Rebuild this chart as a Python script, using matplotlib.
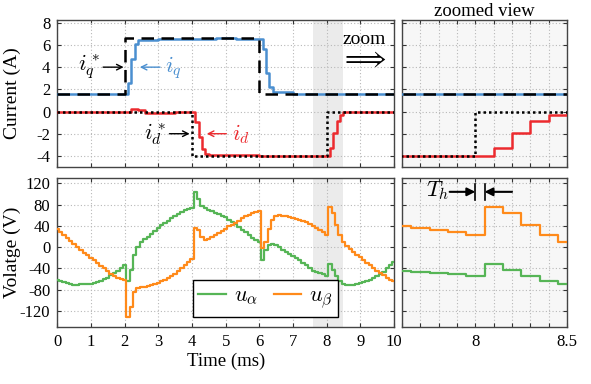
import numpy as np
import matplotlib
matplotlib.use("Agg")
import matplotlib.pyplot as plt

plt.rcParams['font.family'] = ['Liberation Serif', 'DejaVu Serif']
plt.rcParams['mathtext.fontset'] = 'cm'
plt.rcParams['axes.unicode_minus'] = False

# ---------------- data ----------------
# currents (step changes, steps-post)
t_iq = [0, 1.0, 2.1, 2.2, 2.3, 2.4, 3.0, 4.0, 4.7, 5.3, 6.1, 6.2, 6.3, 6.4, 7.0, 8.0, 9.0, 9.6, 10.0]
iq = [1.6, 1.58, 2.6, 4.7, 6.1, 6.45, 6.5, 6.5, 6.62, 6.55, 5.6, 3.5, 2.2, 1.75, 1.6, 1.6, 1.55, 1.6, 1.6]
t_iq_ref = [0, 2.0, 6.0, 10.0]
iq_ref = [1.6, 6.6, 1.6, 1.6]

t_id = [0, 2.2, 2.4, 2.6, 3.5, 4.1, 4.2, 4.3, 4.4, 4.5, 5.0, 6.0, 7.0, 7.6, 8.1, 8.2, 8.3, 8.4, 8.5, 9.0, 10.0]
id_ = [0.0, 0.2, 0.1, -0.1, 0.0, -0.9, -2.3, -3.4, -3.8, -3.9, -3.95, -3.98, -4.05, -4.0, -3.27, -1.9, -0.88, -0.35, -0.05, 0.0, 0.0]
t_id_ref = [0, 4.0, 8.0, 10.0]
id_ref = [0.0, -4.0, 0.0, 0.0]

# voltages sampled every 0.1 ms (steps-mid)
t_v = np.round(np.arange(101) * 0.1, 2)
u_alpha = [-62, -64, -66, -68, -70, -71, -71, -70, -70, -70,
           -69, -68, -66, -63, -60, -57, -53, -49, -45, -40,
           -33, -64, -42, -15, 0, 9, 15, 20, 25, 31,
           36, 41, 46, 50, 54, 58, 62, 66, 69, 71,
           74, 103, 90, 78, 74, 70, 68, 65, 62, 59,
           56, 52, 48, 43, 38, 33, 28, 23, 18, 13,
           9, -24, -6, 4, 6, 4, 0, -5, -9, -13,
           -17, -21, -25, -29, -33, -40, -45, -47, -49, -51,
           -54, -32, -43, -55, -64, -69, -72, -72, -71, -69,
           -67, -65, -63, -61, -58, -54, -50, -46, -40, -34,
           -27]
u_beta = [35, 29, 23, 17, 11, 6, 0, -5, -10, -15,
          -20, -25, -30, -35, -40, -45, -50, -54, -57, -60,
          -62, -132, -112, -85, -77, -75, -74, -73, -72, -70,
          -67, -64, -61, -58, -54, -50, -45, -40, -34, -28,
          -23, 36, 33, 20, 14, 15, 19, 23, 27, 31,
          35, 39, 42, 46, 50, 54, 58, 61, 64, 66,
          68, -2, 10, 35, 52, 59, 60, 59, 58, 57,
          55, 53, 51, 49, 47, 44, 40, 36, 32, 28,
          23, 75, 65, 42, 22, 9, 2, -4, -9, -14,
          -19, -24, -29, -34, -40, -45, -49, -53, -57, -61,
          -64]

c_blue = '#4a8fd0'
c_red = '#ec2a2e'
c_green = '#56b556'
c_orange = '#ff8a1a'

W, H = 591, 384
fig = plt.figure(figsize=(W / 100, H / 100), dpi=100)

def fx(px):
    return px / W

def fy(py):
    return 1 - py / H

L0, L1 = 57.3, 394
R0, R1 = 402, 567
T0, T1 = 20, 167
B0, B1 = 178, 327

ax_tl = fig.add_axes([fx(L0), fy(T1), fx(L1 - L0), (T1 - T0) / H])
ax_tr = fig.add_axes([fx(R0), fy(T1), fx(R1 - R0), (T1 - T0) / H])
ax_bl = fig.add_axes([fx(L0), fy(B1), fx(L1 - L0), (B1 - B0) / H])
ax_br = fig.add_axes([fx(R0), fy(B1), fx(R1 - R0), (B1 - B0) / H])

tick_fs = 12
for ax in (ax_tl, ax_tr, ax_bl, ax_br):
    ax.tick_params(direction='in', top=True, right=True, labelsize=tick_fs,
                   length=3, width=0.8, color='#333333', pad=5)
    ax.grid(True, linestyle=(0, (1, 2)), color='#b8b8b8', linewidth=0.8)
    for s in ax.spines.values():
        s.set_color('#444444')
        s.set_linewidth(1.0)
    ax.set_axisbelow(True)

for ax in (ax_tr, ax_br):
    ax.set_facecolor('#f7f7f7')
for ax in (ax_tl, ax_bl):
    ax.axvspan(7.6, 8.5, color='#ebebeb', zorder=0, lw=0)

# current plots
for ax in (ax_tl, ax_tr):
    ax.plot(t_iq, iq, drawstyle='steps-post', color=c_blue, lw=1.8, zorder=3)
    ax.plot(t_iq_ref, iq_ref, drawstyle='steps-post', color='k', lw=1.8,
            dashes=(5, 3), zorder=4)
    ax.plot(t_id, id_, drawstyle='steps-post', color=c_red, lw=1.8, zorder=3)
    ax.plot(t_id_ref, id_ref, drawstyle='steps-post', color='k', lw=1.8,
            dashes=(1, 1.2), zorder=4)
    ax.set_ylim(-5, 8.25)
    ax.set_yticks([-4, -2, 0, 2, 4, 6, 8])

# voltage plots
for ax in (ax_bl, ax_br):
    l1, = ax.plot(t_v, u_alpha, drawstyle='steps-mid', color=c_green, lw=1.6, zorder=3)
    l2, = ax.plot(t_v, u_beta, drawstyle='steps-mid', color=c_orange, lw=1.6, zorder=3)
    ax.set_ylim(-150, 130)
    ax.set_yticks([-120, -80, -40, 0, 40, 80, 120])

for ax in (ax_tl, ax_bl):
    ax.set_xlim(0, 10)
    ax.set_xticks(range(0, 11))
ax_tl.set_xticklabels([])

zt = np.round(np.arange(7.6, 8.51, 0.1), 2)
for ax in (ax_tr, ax_br):
    ax.set_xlim(7.6, 8.5)
    ax.set_xticks(zt)
    ax.set_yticklabels([])
ax_tr.set_xticklabels([])
ax_br.set_xticklabels(['8' if abs(v - 8) < 1e-6 else ('8.5' if abs(v - 8.5) < 1e-6 else '') for v in zt])

ax_tl.set_ylabel('Current (A)', fontsize=14)
ax_bl.set_ylabel('Volatge (V)', fontsize=14)
ax_bl.set_xlabel('Time (ms)', fontsize=13.5, labelpad=2)
ax_tr.set_title('zoomed view', fontsize=13.5, pad=3)

ax_bl.yaxis.set_label_coords(-0.108, 0.5)
ax_tl.yaxis.set_label_coords(-0.108, 0.5)

# annotations on currents
arr = dict(arrowstyle='->', lw=1.0, shrinkA=0, shrinkB=0)
ax_tl.annotate('', xy=(1.97, 4.0), xytext=(1.36, 4.0), arrowprops=dict(arr, color='k'))
ax_tl.text(0.95, 4.0, r'$i_q^*$', fontsize=16, ha='center', va='center')
ax_tl.annotate('', xy=(2.45, 4.0), xytext=(3.05, 4.0), arrowprops=dict(arr, color=c_blue))
ax_tl.text(3.45, 4.0, r'$i_q$', fontsize=16, ha='center', va='center', color=c_blue)
ax_tl.annotate('', xy=(3.93, -2.0), xytext=(3.33, -2.0), arrowprops=dict(arr, color='k'))
ax_tl.text(2.9, -2.0, r'$i_d^*$', fontsize=16, ha='center', va='center')
ax_tl.annotate('', xy=(4.44, -2.0), xytext=(5.02, -2.0), arrowprops=dict(arr, color=c_red))
ax_tl.text(5.45, -2.0, r'$i_d$', fontsize=16, ha='center', va='center', color=c_red)
ax_tl.text(9.1, 6.45, 'zoom', fontsize=14, ha='center', va='center')
ax_tl.text(9.1, 4.65, r'$\Longrightarrow$', fontsize=19, ha='center', va='center')

# T_h annotation
ax_br.plot([8.0, 8.0], [88, 118], color='k', lw=1.2, zorder=5)
ax_br.plot([8.05, 8.05], [88, 118], color='k', lw=1.2, zorder=5)
ax_br.annotate('', xy=(8.0, 104), xytext=(7.86, 104),
               arrowprops=dict(arrowstyle='-|>', color='k', lw=1.5, mutation_scale=12,
                               shrinkA=0, shrinkB=0))
ax_br.annotate('', xy=(8.05, 104), xytext=(8.2, 104),
               arrowprops=dict(arrowstyle='-|>', color='k', lw=1.5, mutation_scale=12,
                               shrinkA=0, shrinkB=0))
ax_br.text(7.795, 106, r'$T_h$', fontsize=16, ha='center', va='center')

leg = ax_bl.legend([l1, l2], [r'$u_\alpha$', r'$u_\beta$'], ncol=2, loc='lower right',
                   bbox_to_anchor=(0.835, 0.07), borderaxespad=0, fontsize=16,
                   frameon=True, fancybox=False, edgecolor='k', framealpha=1,
                   handlelength=1.25, columnspacing=0.7, handletextpad=0.35,
                   borderpad=0.25)
leg.get_frame().set_linewidth(1.0)

fig.savefig('out.png', dpi=100)
